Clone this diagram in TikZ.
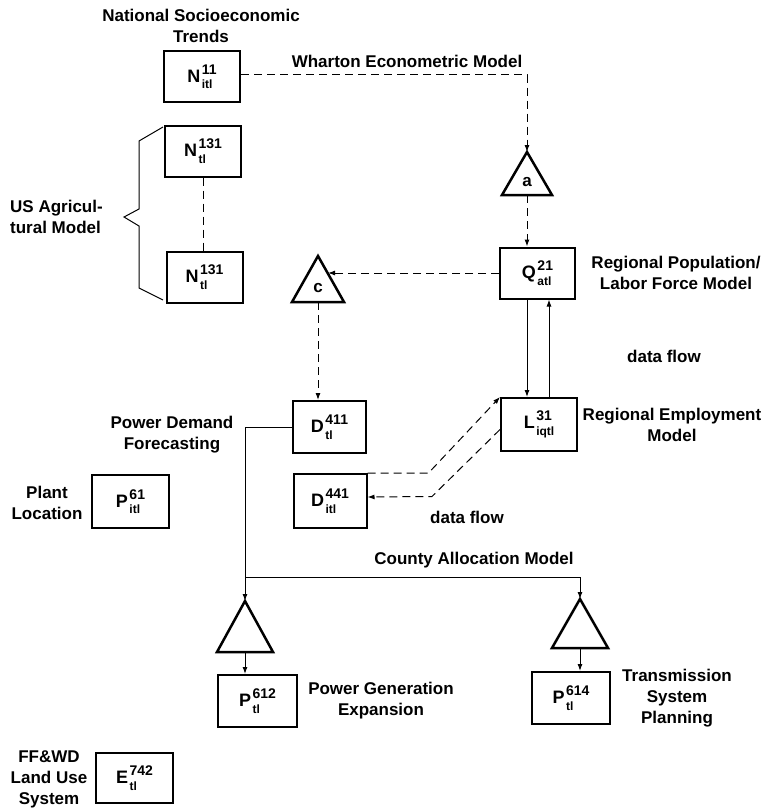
\documentclass[tikz,border=0pt]{standalone}
\usepackage{fontspec}
\setmainfont{Liberation Sans}
\usetikzlibrary{arrows.meta}
\newsavebox\supbx
\newsavebox\subbx
\newcommand{\mlbl}[3]{\sbox\supbx{\fontsize{14}{14}\selectfont #2}\sbox\subbx{\fontsize{12}{12}\selectfont #3}#1\kern1.5pt\rlap{\raisebox{8pt}{\usebox\supbx}}\raisebox{-6.5pt}{\usebox\subbx}\ifdim\wd\supbx>\wd\subbx\kern\dimexpr\wd\supbx-\wd\subbx\relax\fi}
\begin{document}
\begin{tikzpicture}[x=1pt,y=-1pt,
  box/.style={draw, line width=2pt, minimum width=76pt, minimum height=51pt, inner sep=0pt,
    font=\fontsize{18}{18}\selectfont\bfseries},
  lbl/.style={font=\fontsize{17}{21}\selectfont\bfseries, align=center, inner sep=0pt},
  lbll/.style={lbl, align=left},
  conn/.style={line width=1pt},
  dashline/.style={conn, dash pattern=on 8pt off 5pt},
  arr/.style={-{Latex[length=7pt,width=5pt]}},
  tri/.style={line width=2.5pt, line join=miter}]
\useasboundingbox (0,0) rectangle (773,809);

% boxes
\node[box] (N11) at (202,76.5) {\mlbl{N}{11}{itl}};
\node[box] (Nt1) at (203,151) {\mlbl{N}{131}{tl}};
\node[box] (Nt2) at (204.5,277) {\mlbl{N}{131}{tl}};
\node[box, minimum width=75pt] (Q) at (537.5,273) {\mlbl{Q}{21}{atl}};
\node[box, minimum height=53pt] (L) at (539,424.5) {\mlbl{L}{31}{iqtl}};
\node[box, minimum width=73pt, minimum height=52pt] (D411) at (329.5,427) {\mlbl{D}{411}{tl}};
\node[box, minimum width=73pt, minimum height=54pt] (D441) at (330,501) {\mlbl{D}{441}{itl}};
\node[box, minimum width=77pt, minimum height=53pt] (P61) at (130.5,501.5) {\mlbl{P}{61}{itl}};
\node[box, minimum width=79pt, minimum height=52pt] (P612) at (257.5,701) {\mlbl{P}{612}{tl}};
\node[box, minimum width=78pt, minimum height=52pt] (P614) at (571,698) {\mlbl{P}{614}{tl}};
\node[box, minimum width=77pt, minimum height=50pt] (E742) at (134.5,778) {\mlbl{E}{742}{tl}};

% triangles
\coordinate (aT) at (527,152); \coordinate (aB) at (527,195);
\draw[tri] (aT) -- (552,195) -- (502,195) -- cycle;
\node[lbl] (aL) at (527,182) {a};
\coordinate (cT) at (318,256); \coordinate (cB) at (318,302); \coordinate (cE) at (328,273);
\draw[tri] (cT) -- (344,302) -- (292,302) -- cycle;
\node[lbl] (cL) at (318,288) {c};
\coordinate (t1T) at (245,601); \coordinate (t1B) at (245,652);
\draw[tri] (t1T) -- (273,652) -- (217,652) -- cycle;
\coordinate (t2T) at (580,599); \coordinate (t2B) at (580,648);
\draw[tri] (t2T) -- (608,648) -- (552,648) -- cycle;

% brace
\draw[conn] (163,127) -- (139,141) -- (139,209) -- (124,217) -- (139,226) -- (139,288) -- (163,300);

% connectors
\draw[dashline, arr] ([yshift=2pt]N11.east) -| (aT);
\draw[dashline, arr] (aB) -- (aB |- Q.north);
\draw[dashline] (Nt1.south) -- (Nt1.south |- Nt2.north);
\draw[dashline, arr] (Q.west) -- (cE);
\draw[dashline, arr] (cB) -- (cB |- D411.north);
\draw[conn, arr] (Q.south -| aB) -- (L.north -| aB);
\coordinate (up) at (549,0);
\draw[conn, arr] (L.north -| up) -- (Q.south -| up);
\draw[dashline, arr] (D441.north east) -- ++(61,0) -- (L.north west);
\draw[dashline, arr] ([yshift=-5pt]L.west) -- ++(-68,67) -- ([yshift=4pt]D441.east);
\coordinate (J) at (245,577);
\draw[conn, arr] (D411.west) -| (t1T);
\draw[conn, arr] (J) -| (t2T);
\draw[conn, arr] (t1B) -- (t1B |- P612.north);
\draw[conn, arr] (t2B) -- (t2B |- P614.north);

% labels
\node[lbl] (tNat) at (201,25.5) {National Socioeconomic\\Trends};
\node[lbl] (tWh) at (407,61) {Wharton Econometric Model};
\node[lbll, anchor=west] (tUS) at (10,217) {US Agricul-\\tural Model};
\node[lbl] (tQ) at (676,273) {Regional Population/\\Labor Force Model};
\node[lbl] (tdf1) at (664,356) {data flow};
\node[lbl] (tL) at (672,425) {Regional Employment\\Model};
\node[lbl] (tdf2) at (467,517) {data flow};
\node[lbl] (tPD) at (172,434.5) {Power Demand\\Forecasting};
\node[lbl] (tPL) at (47,502.5) {Plant\\Location};
\node[lbl] (tCA) at (474,560) {County Allocation Model};
\node[lbl] (tPG) at (381,701) {Power Generation\\Expansion};
\node[lbl] (tTS) at (677,698) {Transmission\\System\\Planning};
\node[lbl] (tFF) at (49,779.5) {FF\&WD\\Land Use\\System};
\end{tikzpicture}
\end{document}
